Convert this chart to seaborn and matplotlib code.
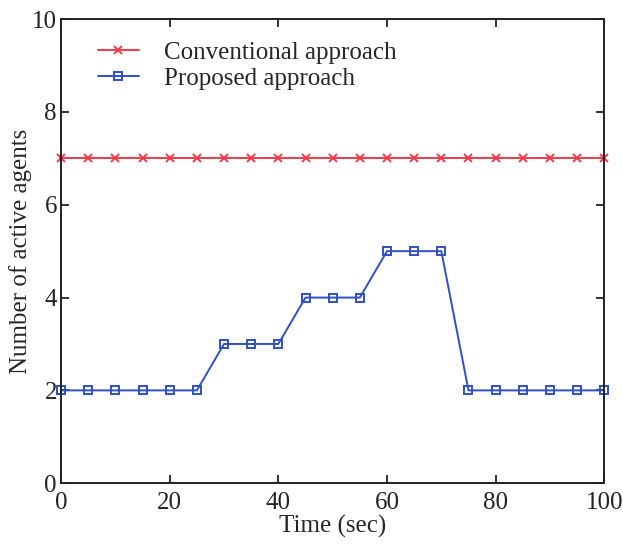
import matplotlib
matplotlib.use("Agg")
import matplotlib.pyplot as plt
import pandas as pd
import seaborn as sns

time_sec = [0, 5, 10, 15, 20, 25, 30, 35, 40, 45, 50, 55, 60, 65, 70, 75, 80, 85, 90, 95, 100]
conventional = [7] * 21
proposed = [2, 2, 2, 2, 2, 2, 3, 3, 3, 4, 4, 4, 5, 5, 5, 2, 2, 2, 2, 2, 2]

sns.set_style("ticks")
plt.rcParams['font.family'] = ['Liberation Serif', 'DejaVu Serif']

df = pd.DataFrame({'time': time_sec, 'conv': conventional, 'prop': proposed})

red = '#ee3b4a'
blue = '#2f4fc4'

fig = plt.figure(figsize=(6.23, 5.46), dpi=100)
ax = fig.add_axes([0.098, 0.115, 0.872, 0.85])

sns.lineplot(data=df, x='time', y='conv', ax=ax, color=red, marker='x',
             markersize=5.5, markeredgecolor=red, markeredgewidth=1.4,
             linewidth=1.4, label='Conventional approach', clip_on=False)
sns.lineplot(data=df, x='time', y='prop', ax=ax, color=blue, marker='s',
             markersize=6, markerfacecolor='none', markeredgecolor=blue,
             markeredgewidth=1.4, linewidth=1.4, label='Proposed approach',
             clip_on=False)

ax.set_xlim(0, 100)
ax.set_ylim(0, 10)
ax.set_xticks([0, 20, 40, 60, 80, 100])
ax.set_yticks([0, 2, 4, 6, 8, 10])
ax.tick_params(direction='in', top=True, right=True, length=6, width=1.3,
               labelsize=18, colors='#222222')
ax.tick_params(axis='x', pad=6)
ax.tick_params(axis='y', pad=3)
for s in ax.spines.values():
    s.set_linewidth(1.4)
    s.set_color('#222222')

ax.set_xlabel("Time (sec)", fontsize=18, labelpad=1)
ax.set_ylabel("Number of active agents", fontsize=18, labelpad=0)

ax.legend(loc='upper left', frameon=False, fontsize=18, handlelength=1.65,
          borderaxespad=0.3, labelspacing=0.15, handletextpad=1.0,
          bbox_to_anchor=(0.035, 0.99))

plt.savefig("out.png", dpi=100)
